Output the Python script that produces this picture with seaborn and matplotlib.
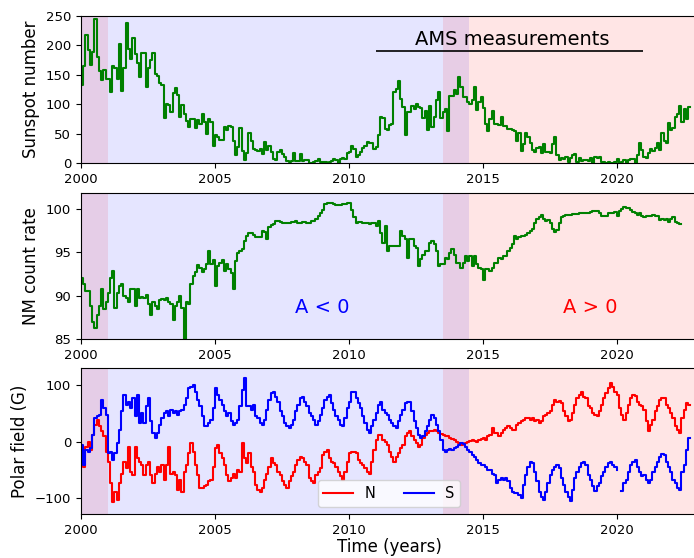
import numpy as np
import pandas as pd
import matplotlib
matplotlib.use("Agg")
from matplotlib import pyplot as plt
import seaborn as sns

# monthly values, first entry = January 2000
sunspot = [
    133.1, 165.7, 217.7, 191.5, 165.9, 188.0, 244.3, 180.5, 156.0, 141.6, 158.1, 143.3,
    142.6, 121.5, 165.8, 161.7, 142.1, 202.9, 123.0, 161.5, 238.2, 194.1, 176.6, 213.4,
    184.6, 170.2, 147.1, 186.9, 187.5, 128.8, 161.0, 175.6, 187.9, 151.2, 147.2, 135.3,
    133.5, 75.7, 100.7, 97.9, 86.8, 118.7, 128.3, 115.4, 78.5, 97.8, 82.9, 72.2,
    60.6, 74.6, 74.8, 59.2, 72.8, 66.5, 83.8, 69.7, 48.8, 74.2, 70.1, 28.9,
    48.1, 43.5, 39.6, 38.7, 61.9, 56.8, 62.4, 60.5, 37.2, 13.2, 27.5, 59.3,
    20.9, 5.7, 17.3, 50.3, 37.2, 24.5, 22.2, 20.8, 23.7, 14.9, 35.7, 22.3,
    29.3, 18.4, 7.2, 5.4, 19.5, 21.3, 15.1, 9.8, 4.0, 1.5, 2.8, 17.3,
    4.1, 2.9, 15.5, 3.6, 4.6, 5.2, 0.6, 0.3, 1.2, 4.2, 6.6, 1.0,
    1.3, 1.2, 0.6, 1.2, 2.9, 6.3, 5.5, 0.0, 7.1, 7.7, 6.9, 16.3,
    19.5, 28.5, 24.0, 10.4, 13.9, 18.8, 25.2, 29.6, 36.4, 33.6, 34.4, 24.5,
    27.3, 48.3, 78.6, 76.1, 58.2, 56.1, 64.5, 65.8, 120.1, 125.7, 139.1, 109.3,
    94.4, 47.8, 86.6, 85.9, 96.5, 92.0, 100.1, 94.8, 93.7, 76.5, 87.6, 56.8,
    96.1, 60.9, 78.3, 107.3, 120.2, 76.7, 86.2, 91.8, 54.5, 114.4, 113.9, 124.2,
    117.0, 146.1, 128.7, 112.5, 112.5, 102.9, 100.2, 106.9, 130.0, 90.0, 103.6, 112.9,
    93.0, 66.7, 54.5, 75.3, 88.8, 66.5, 65.8, 64.4, 78.6, 63.6, 62.2, 58.0,
    57.0, 56.4, 54.1, 37.9, 51.5, 20.5, 32.4, 50.2, 44.6, 33.4, 21.4, 18.5,
    26.1, 26.4, 17.7, 32.3, 18.9, 19.2, 17.8, 32.6, 43.7, 13.2, 5.7, 8.2,
    6.8, 10.7, 2.5, 8.9, 13.1, 15.6, 1.6, 8.7, 3.3, 4.9, 4.9, 3.1,
    7.7, 0.8, 9.4, 9.1, 9.9, 1.2, 0.9, 0.5, 1.1, 0.4, 0.5, 1.5,
    6.2, 0.2, 1.5, 5.2, 0.2, 5.8, 6.1, 7.5, 0.6, 14.4, 34.0, 21.8,
    10.4, 8.2, 17.2, 24.5, 21.2, 25.0, 34.3, 22.0, 51.3, 37.4, 34.8, 67.5,
    55.3, 59.9, 78.5, 84.1, 96.5, 70.5, 91.4, 74.6, 96.0, 95.5,
]

nm_rate = [
    92.0, 91.3, 90.5, 90.5, 88.8, 87.0, 86.3, 87.8, 88.8, 90.7, 88.5, 89.3,
    90.3, 92.0, 92.8, 88.6, 90.3, 91.1, 91.3, 89.9, 89.7, 89.2, 90.7, 90.8,
    88.8, 90.8, 89.7, 89.8, 89.7, 90.1, 89.0, 87.8, 89.3, 88.8, 88.4, 89.5,
    89.6, 89.5, 89.7, 89.3, 89.0, 87.2, 88.8, 89.3, 89.9, 88.6, 84.5, 89.2,
    89.0, 91.3, 92.2, 92.7, 93.5, 93.2, 92.7, 93.0, 93.6, 95.1, 93.6, 94.1,
    91.1, 93.4, 93.8, 94.1, 92.8, 93.6, 93.0, 92.6, 90.7, 94.0, 94.9, 95.1,
    95.4, 96.3, 96.9, 97.2, 97.2, 97.0, 96.7, 96.7, 96.7, 97.4, 97.3, 96.5,
    97.9, 98.1, 98.2, 98.6, 98.6, 98.5, 98.4, 98.3, 98.4,
    98.4, 98.5, 98.5, 98.6, 98.4, 98.4, 98.5, 98.5, 98.3, 98.3, 98.6, 98.6,
    98.8, 99.2, 99.5, 99.9, 100.5, 100.6, 100.7, 100.7, 100.5, 100.4, 100.4, 100.4,
    100.5, 100.5, 100.7, 100.7, 99.9, 99.0, 98.4, 98.5, 98.5, 98.4, 98.3, 98.3,
    98.2, 98.4, 98.4, 98.0, 98.6, 97.2, 96.1, 98.0, 95.1, 95.7, 95.7, 95.7,
    95.7, 95.7, 97.4, 96.8, 96.5, 94.3, 96.5, 96.5, 95.7, 95.5, 93.4, 94.2,
    94.7, 95.1, 95.1, 96.1, 96.3, 95.9, 95.1, 93.4, 93.6, 93.6, 94.3, 94.2,
    94.9, 95.3, 94.7, 93.8, 93.8, 93.2, 93.8, 94.5, 94.0, 94.5, 93.4, 94.5,
    93.6, 93.2, 93.0, 91.8, 93.0, 93.0, 92.8,
    93.2, 93.8, 93.8, 94.3, 94.2, 94.5, 94.5, 95.1, 95.5, 95.9, 96.8, 96.5,
    96.7, 96.8, 96.8, 97.0, 97.2, 97.4, 97.7, 98.4, 98.8, 99.0, 99.3, 98.8,
    98.6, 98.7, 98.4, 97.7, 97.3, 97.6, 98.4, 99.0, 99.2, 99.3, 99.3, 99.3,
    99.4, 99.4, 99.4, 99.5, 99.5, 99.5, 99.5, 99.5, 99.6, 99.7, 99.7, 99.7,
    99.5, 99.1, 99.2, 99.2, 99.5, 99.5, 99.5, 99.6, 99.2, 99.7, 100.0, 100.2,
    100.1, 100.1, 99.8, 99.6, 99.5, 99.3, 99.5, 99.2, 99.0, 99.2, 99.2, 99.2,
    99.3, 99.2, 99.2, 98.7, 98.8, 98.7, 98.8, 98.5, 98.8, 99.0, 98.5, 98.3,
    98.2, 98.2,
]

field_n = [
    -9, -45, -9, -1, -15, 12, 30, 39, 27, 18, 9, -18,
    -36, -74, -107, -89, -104, -74, -57, -36, -48, -9, -54, -60,
    -9, -30, -36, -42, -60, -42, -36, -60, -74, -57, -45, -54,
    -42, -68, -42, -9, -57, -54, -60, -86, -68, -89, -54, -42,
    -21, -3, -18, -42, -60, -83, -83, -80, -77, -71, -68, -45,
    -12, -6, -20, -30, -42, -60, -71, -65, -57, -65, -51, -54,
    -3, -30, -39, -21, -45, -54, -77, -86, -89, -83, -68, -57,
    -45, -30, -39, -42, -54, -60, -71, -77, -83,
    -71, -62, -54, -42, -33, -27, -29, -36, -42, -65, -71, -74,
    -60, -54, -48, -24, -19, -15, -30, -36, -39, -45, -54, -62,
    -68, -54, -36, -21, -18, -19, -21, -33, -39, -42, -48, -54,
    -57, -36, -15, 3, 12, 11, 3, -1, -6, -19, -27, -36,
    -27, -21, -12, -6, 9, 15, 18, 9, 3, -3, -9, -6,
    6, 12, 15, 18, 19, 21, 18, 15, 13, 12, 9, 9,
    7, 5, 3, 0, -3, -6, -5, -3, 0, 1, 3, 1,
    0, 3, 5, 6, 3, 9,
    12, 24, 15, 15, 9, 15, 21, 24, 27, 24, 21, 21,
    30, 33, 36, 39, 42, 42, 39, 42, 36, 39, 33, 36,
    45, 48, 51, 54, 65, 74, 71, 73, 68, 54, 45, 36,
    39, 51, 65, 77, 83, 89, 80, 77, 63, 60, 51, 48,
    45, 54, 65, 77, 86, 95, 104, 98, 89, 83, 60, 48,
    39, 51, 65, 77, 83, 82, 71, 65, 63, 57, 36, 18,
    30, 39, 54, 63, 74, 77, 77, 65, 60, 51, 42, 27,
    21, 15, 42, 57, 68, 65, 65,
]

# np.nan marks the short data gap early in 2020
field_s = [
    -6, -42, -15, -18, -12, 12, 42, 45, 48, 74, 60, 48,
    -21, -18, -33, -21, -3, 21, 54, 83, 65, 71, 60, 77,
    45, 83, 33, 51, 33, 63, 77, 36, 15, 6, 15, 30,
    42, 51, 54, 45, 57, 51, 54, 48, 54, 57, 65, 77,
    95, 98, 101, 89, 74, 63, 45, 27, 27, 33, 39, 60,
    95, 83, 74, 65, 54, 45, 51, 36, 30, 33, 39, 63,
    92, 113, 63, 63, 57, 65, 45, 42, 33, 30, 39, 57,
    74, 86, 89, 80, 71, 54, 45, 33, 27,
    24, 30, 39, 54, 65, 77, 80, 71, 63, 51, 45, 39,
    30, 36, 48, 60, 74, 80, 83, 68, 57, 45, 39, 30,
    27, 42, 60, 71, 89, 89, 77, 68, 60, 45, 33, 21,
    15, 27, 39, 51, 65, 71, 57, 51, 48, 39, 33, 27,
    24, 36, 48, 57, 68, 71, 71, 54, 36, 24, 12, 6,
    9, 18, 27, 39, 48, 42, 30, 18, 3, -15, -19, -15,
    -13, -15, -12, -9, -6, -3, -5, -9, -15, -19, -24, -27,
    -33, -39, -41, -42, -45, -50,
    -51, -57, -60, -74, -68, -65, -68, -65, -71, -83, -89, -92,
    -92, -95, -101, -77, -60, -45, -36, -39, -54, -71, -89, -98,
    -104, -89, -74, -60, -51, -45, -42, -48, -65, -77, -89, -98,
    -106, -86, -65, -54, -45, -39, -36, -42, -60, -68, -80, -88,
    -80, -74, -62, -54, -45, -39, -36, -42, -45, -51, np.nan,
    -88, -74, -68, -54, -42, -36, -33, -45, -54, -62, -60, -68,
    -74, -68, -54, -45, -36, -27, -23, -24, -36, -45, -54, -68,
    -74, -83, -86, -54, -42, -15, 6, 6,
]


def monthly(values, name):
    df = pd.DataFrame({name: values})
    df["year"] = 2000 + np.arange(len(df)) / 12.0
    return df


ssn_df = monthly(sunspot, "ssn")
nm_df = monthly(nm_rate, "rate")
n_df = monthly(field_n, "field")
s_df = monthly(field_s, "field")
s_df["seg"] = s_df["field"].isna().cumsum()
s_df = s_df.dropna()

plt.rcParams["font.family"] = ["DejaVu Sans"]
fig = plt.figure(figsize=(6.94, 5.58), dpi=100)

left, width = 81 / 694, 616 / 694
ax1 = fig.add_axes([left, 0.7079, width, 0.2634])
ax2 = fig.add_axes([left, 0.3925, width, 0.2616])
ax3 = fig.add_axes([left, 0.0789, width, 0.2616])

for ax in (ax1, ax2, ax3):
    # polarity periods: A>0 (red), A<0 (blue), overlap during reversals
    ax.axvspan(2000, 2001, color="red", alpha=0.1, lw=0)
    ax.axvspan(2000, 2014.5, color="blue", alpha=0.1, lw=0)
    ax.axvspan(2013.5, 2023, color="red", alpha=0.1, lw=0)

line_kw = dict(lw=1.5, drawstyle="steps-post")

# sunspot number
sns.lineplot(data=ssn_df, x="year", y="ssn", color="green", ax=ax1, **line_kw)
ax1.set_ylim(0, 250)
ax1.set_ylabel("Sunspot number", fontsize=12)
ax1.hlines(190, 2011.0, 2021.0, color="black", lw=1.2)
ax1.text(2016.1, 200, "AMS measurements", ha="center", va="baseline", fontsize=14)

# neutron monitor
sns.lineplot(data=nm_df, x="year", y="rate", color="green", ax=ax2, **line_kw)
ax2.set_ylim(85, 101.8)
ax2.set_yticks([85, 90, 95, 100])
ax2.set_ylabel("NM count rate", fontsize=12)
ax2.text(2009.0, 88.0, "A < 0", color="blue", ha="center", va="baseline", fontsize=14)
ax2.text(2019.0, 88.0, "A > 0", color="red", ha="center", va="baseline", fontsize=14)

# polar fields
sns.lineplot(data=n_df, x="year", y="field", color="red", label="N", ax=ax3, **line_kw)
for i, (seg, part) in enumerate(s_df.groupby("seg")):
    sns.lineplot(data=part, x="year", y="field", color="blue",
                 label="S" if i == 0 else "_nolegend_", ax=ax3, **line_kw)
ax3.set_ylim(-129, 131)
ax3.set_yticks([-100, 0, 100])
ax3.set_ylabel("Polar field (G)", fontsize=12)
ax3.set_xlabel("Time (years)", fontsize=12, labelpad=1)
ax3.legend(loc="lower center", ncol=2, fontsize=10.5)

for ax in (ax1, ax2, ax3):
    ax.set_xlim(2000, 2023)
    ax.set_xticks([2000, 2005, 2010, 2015, 2020])
    ax.tick_params(labelsize=9.5)
    if ax is not ax3:
        ax.set_xlabel("")

fig.savefig("out.png", dpi=100)
